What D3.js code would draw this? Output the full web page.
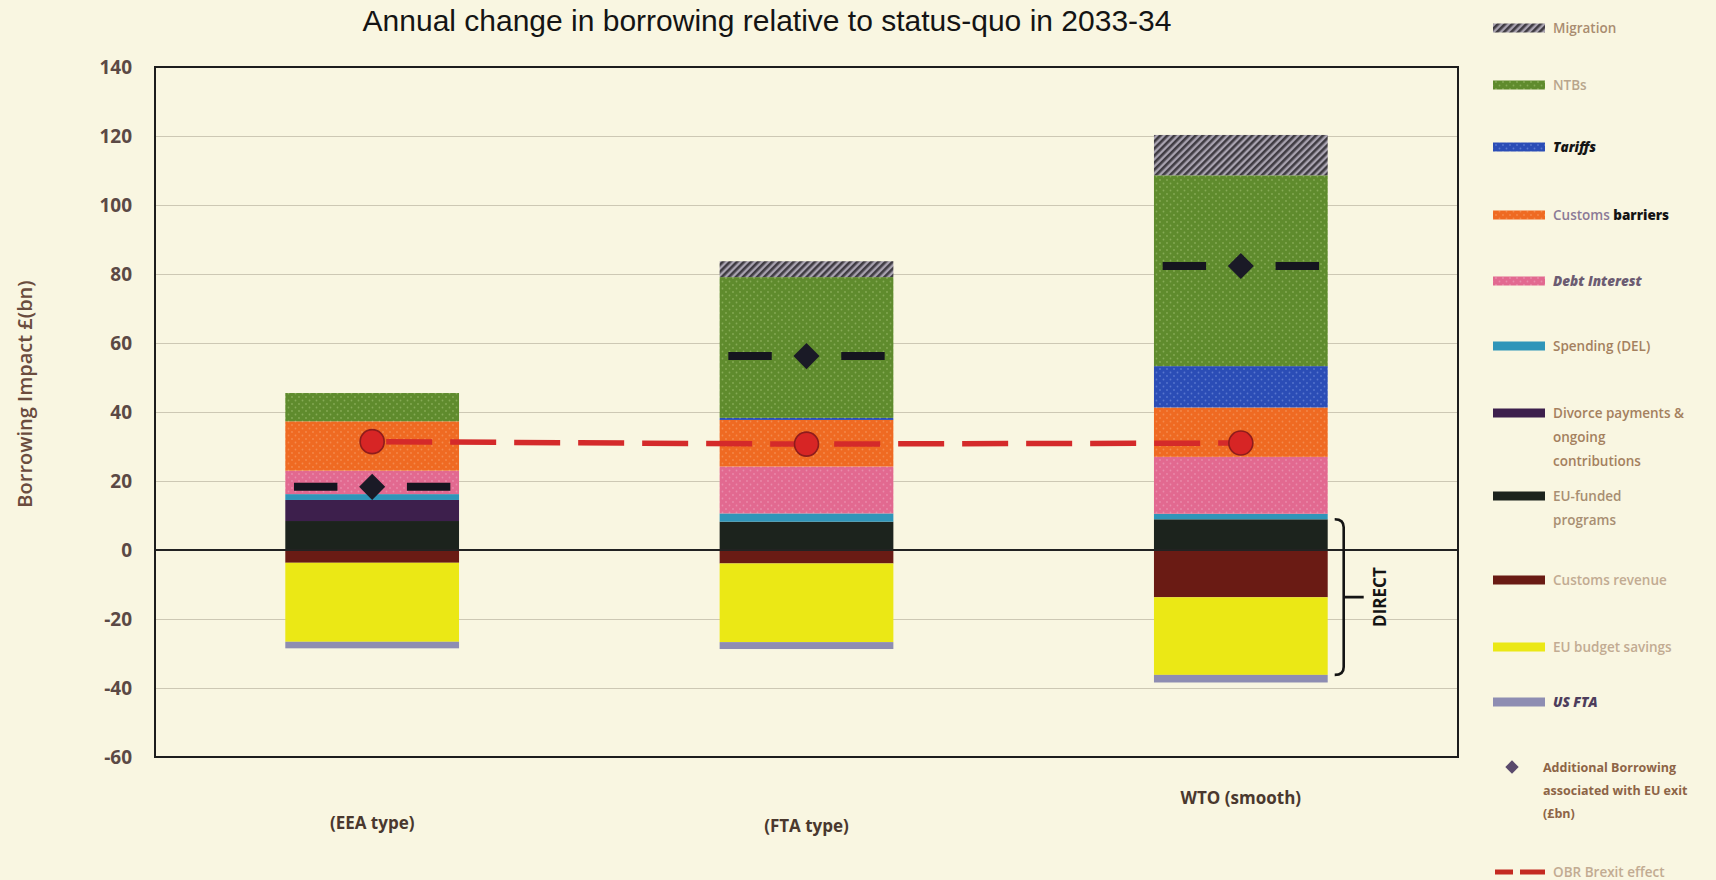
<!DOCTYPE html>
<html><head><meta charset="utf-8">
<script src="https://cdn.jsdelivr.net/npm/d3@7"></script>
<style>
html,body{margin:0;padding:0;background:#f9f6e1;}
svg{display:block;}
</style></head><body>
<svg id="chart" width="1716" height="880"></svg>
<script>
// ---------------- DATA ----------------
const categories = ["(EEA type)", "(FTA type)", "WTO (smooth)"];
const euFundedPrograms   = [8.4, 8.2, 8.9];
const divorcePayments    = [6.1, 0, 0];
const spendingDEL        = [1.7, 2.4, 1.6];
const debtInterest       = [6.8, 13.6, 16.5];
const customsBarriers    = [14.3, 13.5, 14.3];
const tariffs            = [0, 0.6, 12.0];
const ntbs               = [8.2, 40.8, 55.3];
const migration          = [0, 4.6, 11.7];
const customsRevenue     = [-3.7, -3.9, -13.7];
const euBudgetSavings    = [-22.9, -22.8, -22.5];
const usFTA              = [-1.9, -2.0, -2.2];
const additionalBorrowing = [18.3, 56.2, 82.3];
const obrBrexitEffect     = [31.4, 30.7, 31.0];
const yTicks = [-60, -40, -20, 0, 20, 40, 60, 80, 100, 120, 140];
const titleText = "Annual change in borrowing relative to status-quo in 2033-34";
const yAxisTitle = "Borrowing Impact £(bn)";
const directLabel = "DIRECT";
const directKeys = ["euFunded", "customsRevenue", "euBudget"];

// stacking order (bottom-up for positives, top-down for negatives)
const stackKeys = ["euFunded","divorce","spending","debt","customsBarriers","tariffs","ntbs","migration","customsRevenue","euBudget","usFTA"];
const seriesValues = {
  euFunded: euFundedPrograms, divorce: divorcePayments, spending: spendingDEL, debt: debtInterest,
  customsBarriers: customsBarriers, tariffs: tariffs, ntbs: ntbs, migration: migration,
  customsRevenue: customsRevenue, euBudget: euBudgetSavings, usFTA: usFTA
};
// legend order and labels
const legendKeys = ["migration","ntbs","tariffs","customsBarriers","debt","spending","divorce","euFunded","customsRevenue","euBudget","usFTA"];
const legendLabels = [["Migration"],["NTBs"],["Tariffs"],["Customs barriers"],["Debt Interest"],["Spending (DEL)"],
  ["Divorce payments &","ongoing","contributions"],["EU-funded","programs"],["Customs revenue"],["EU budget savings"],["US FTA"]];
const diamondLegendLabel = ["Additional Borrowing","associated with EU exit","(£bn)"];
const lineLegendLabel = "OBR Brexit effect";

// ---------------- STYLE / LAYOUT ----------------
const colors = {
  euFunded:"#1c231d", divorce:"#3d1f4c", spending:"#2f95b9", debt:"#e26990",
  customsBarriers:"#ef6a22", tariffs:"#2b4db6", ntbs:"#5f8b2d", migration:"#8f8a98",
  customsRevenue:"#6a1b14", euBudget:"#ebe815", usFTA:"#8e8db2"
};
const legendTextColor = {
  migration:"#a98c70", ntbs:"#b8a58c", tariffs:"#151515", customsBarriers:"#8b7a96", debt:"#6c5c72",
  spending:"#a4805e", divorce:"#a4805e", euFunded:"#a88e72", customsRevenue:"#c2ab92",
  euBudget:"#c2ab92", usFTA:"#4d3d5c"
};
const legendY = [28, 85, 147, 215, 281, 346, 413, 496, 580, 647, 702];
const catLabelY = {"(EEA type)": 829, "(FTA type)": 832, "WTO (smooth)": 804};

const W = 1716, H = 880;
const plot = {left:155, right:1458, top:67, bottom:757};

const svg = d3.select("#chart");
svg.append("rect").attr("width", W).attr("height", H).attr("fill", "#f9f6e1");

// patterns
const defs = svg.append("defs");
const hatch = defs.append("pattern").attr("id","hatch").attr("patternUnits","userSpaceOnUse")
  .attr("width",5).attr("height",5).attr("patternTransform","rotate(45)");
hatch.append("rect").attr("width",5).attr("height",5).attr("fill","#a9a3b0");
hatch.append("rect").attr("width",2.6).attr("height",5).attr("fill","#3f3b42");
function dots(id, base, dot) {
  const p = defs.append("pattern").attr("id",id).attr("patternUnits","userSpaceOnUse").attr("width",7).attr("height",7);
  p.append("rect").attr("width",7).attr("height",7).attr("fill",base);
  p.append("circle").attr("cx",1.5).attr("cy",1.5).attr("r",0.9).attr("fill",dot);
  p.append("circle").attr("cx",5).attr("cy",5).attr("r",0.9).attr("fill",dot);
}
dots("dotGreen", colors.ntbs, "#86ab55");
dots("dotBlue", colors.tariffs, "#5876cf");
dots("dotOrange", colors.customsBarriers, "#f48a4c");
dots("dotPink", colors.debt, "#ea8aab");
const fills = Object.assign({}, colors, {migration:"url(#hatch)", ntbs:"url(#dotGreen)", tariffs:"url(#dotBlue)",
  customsBarriers:"url(#dotOrange)", debt:"url(#dotPink)"});

// scales
const x = d3.scaleBand().domain(categories).range([plot.left, plot.right]).paddingInner(0.6).paddingOuter(0.3);
const y = d3.scaleLinear().domain([-60, 140]).range([plot.bottom, plot.top]);
const bw = x.bandwidth();

// gridlines
svg.append("g").attr("transform",`translate(${plot.left},0)`)
  .call(d3.axisLeft(y).tickValues(yTicks.filter(t => t !== 0 && t !== -60 && t !== 140)).tickSize(-(plot.right-plot.left)).tickFormat(""))
  .call(g => g.select(".domain").remove())
  .call(g => g.selectAll("line").attr("stroke","#cdc8b4").attr("stroke-width",1.2));

// stacked bars
const rows = categories.map((c,i) => { const r = {category:c}; stackKeys.forEach(k => r[k] = seriesValues[k][i]); return r; });
const stacked = d3.stack().keys(stackKeys).offset(d3.stackOffsetDiverging)(rows);
const barG = svg.append("g");
stacked.forEach(s => {
  barG.selectAll(null).data(s.filter(d => Math.abs(d[1]-d[0]) > 0)).join("rect")
    .attr("x", d => x(d.data.category))
    .attr("width", bw)
    .attr("y", d => y(Math.max(d[0], d[1])))
    .attr("height", d => Math.abs(y(d[0]) - y(d[1])))
    .attr("fill", fills[s.key]);
});

// zero line
svg.append("line").attr("x1",plot.left).attr("x2",plot.right).attr("y1",y(0)).attr("y2",y(0))
  .attr("stroke","#222").attr("stroke-width",1.8);

// frame
svg.append("rect").attr("x",plot.left).attr("y",plot.top).attr("width",plot.right-plot.left).attr("height",plot.bottom-plot.top)
  .attr("fill","none").attr("stroke","#1d1d1d").attr("stroke-width",2);

// y axis labels
svg.append("g").attr("transform",`translate(${plot.left},0)`)
  .call(d3.axisLeft(y).tickValues(yTicks).tickSize(0).tickPadding(23).tickFormat(d => String(d)))
  .call(g => g.select(".domain").remove())
  .call(g => g.selectAll("text").attr("font-family","'Open Sans'").attr("font-weight",700).attr("font-size",19).attr("fill","#5b4945"));

// x axis labels
svg.append("g").attr("transform",`translate(0,${plot.bottom})`)
  .call(d3.axisBottom(x).tickSize(0))
  .call(g => g.select(".domain").remove())
  .call(g => g.selectAll("text").attr("font-family","'Open Sans'").attr("font-weight",700).attr("font-size",17).attr("fill","#4a382e")
     .attr("dy",0).attr("y", d => catLabelY[d] - plot.bottom));

// Additional borrowing markers (diamond with dashes)
const markG = svg.append("g");
categories.forEach((c,i) => {
  const cx = x(c) + bw/2, cy = y(additionalBorrowing[i]);
  markG.append("line").attr("x1", x(c)+bw*0.05).attr("x2", x(c)+bw*0.30).attr("y1",cy).attr("y2",cy)
    .attr("stroke","#15151f").attr("stroke-width",8);
  markG.append("line").attr("x1", x(c)+bw*0.70).attr("x2", x(c)+bw*0.95).attr("y1",cy).attr("y2",cy)
    .attr("stroke","#15151f").attr("stroke-width",8);
  markG.append("path").attr("d", d3.symbol(d3.symbolSquare, 340)()).attr("transform",`translate(${cx},${cy}) rotate(45)`)
    .attr("fill","#1a1a26");
});

// OBR Brexit effect line
const line = d3.line().x((d,i) => x(categories[i]) + bw/2).y(d => y(d));
svg.append("path").attr("d", line(obrBrexitEffect)).attr("fill","none").attr("stroke","#d42a2a")
  .attr("stroke-width",5.5).attr("stroke-dasharray","46 18").attr("stroke-dashoffset",-14);
svg.selectAll(null).data(obrBrexitEffect).join("circle")
  .attr("cx",(d,i) => x(categories[i]) + bw/2).attr("cy", d => y(d)).attr("r",12)
  .attr("fill","#d72525").attr("stroke","#8e1c1c").attr("stroke-width",1.6);

// DIRECT bracket on last category
const lastIdx = categories.length - 1;
const lastCat = categories[lastIdx];
const topDirect = d3.max(stacked.filter(s => directKeys.includes(s.key)), s => Math.max(s[lastIdx][0], s[lastIdx][1]));
const botDirect = d3.min(stacked.filter(s => directKeys.includes(s.key)), s => Math.min(s[lastIdx][0], s[lastIdx][1]));
const bx = x(lastCat) + bw + 16, yT = y(topDirect), yB = y(botDirect), yM = (yT + yB)/2;
svg.append("path").attr("d", `M${bx-9},${yT} Q${bx},${yT} ${bx},${yT+8} L${bx},${yB-8} Q${bx},${yB} ${bx-9},${yB} M${bx},${yM} L${bx+20},${yM}`)
  .attr("fill","none").attr("stroke","#141414").attr("stroke-width",2.6);
svg.append("text").attr("transform",`translate(${bx+36},${yM}) rotate(-90)`).attr("text-anchor","middle").attr("dominant-baseline","central")
  .attr("font-family","'Open Sans'").attr("font-weight",700).attr("font-size",17).attr("fill","#141414").text(directLabel);

// title
svg.append("text").attr("x",767).attr("y",31).attr("text-anchor","middle")
  .attr("font-family","'Liberation Sans', Arial, sans-serif").attr("font-size",30).attr("fill","#141414").text(titleText);

// y axis title
svg.append("text").attr("transform","translate(24,394) rotate(-90)").attr("text-anchor","middle").attr("dominant-baseline","central")
  .attr("font-family","'Open Sans'").attr("font-weight",600).attr("font-size",20).attr("fill","#6a4c3e").text(yAxisTitle);

// legend
const lg = svg.append("g").attr("font-family","'Open Sans'").attr("font-weight",600).attr("font-size",13.5);
legendKeys.forEach((k,i) => {
  const ly = legendY[i];
  lg.append("rect").attr("x",1493).attr("y",ly-4.5).attr("width",52).attr("height",9).attr("fill",fills[k]);
  const t = lg.append("text").attr("x",1553).attr("y",ly).attr("dominant-baseline","central").attr("fill",legendTextColor[k]);
  legendLabels[i].forEach((ln,j) => {
    if (k === "customsBarriers") {
      const parts = ln.split(" ");
      t.append("tspan").text(parts[0] + " ");
      t.append("tspan").attr("fill","#141414").attr("font-weight",800).text(parts.slice(1).join(" "));
    } else {
      t.append("tspan").attr("x",1553).attr("dy", j === 0 ? 0 : 24).text(ln);
    }
  });
  if (k === "tariffs" || k === "debt" || k === "usFTA") t.attr("font-weight",800).attr("font-style","italic");
});
// diamond legend
lg.append("path").attr("d", d3.symbol(d3.symbolSquare, 90)()).attr("transform","translate(1512,767) rotate(45)").attr("fill","#5a4a6c");
const dt = lg.append("text").attr("x",1543).attr("y",767).attr("dominant-baseline","central").attr("fill","#8d6446").attr("font-weight",700).attr("font-size",12.5);
diamondLegendLabel.forEach((ln,j) => dt.append("tspan").attr("x",1543).attr("dy", j === 0 ? 0 : 23).text(ln));
// line legend
lg.append("line").attr("x1",1495).attr("x2",1545).attr("y1",872).attr("y2",872).attr("stroke","#c42a22").attr("stroke-width",5)
  .attr("stroke-dasharray","18 7 30");
lg.append("text").attr("x",1553).attr("y",872).attr("dominant-baseline","central").attr("fill","#c2ab92").text(lineLegendLabel);
</script>
</body></html>
